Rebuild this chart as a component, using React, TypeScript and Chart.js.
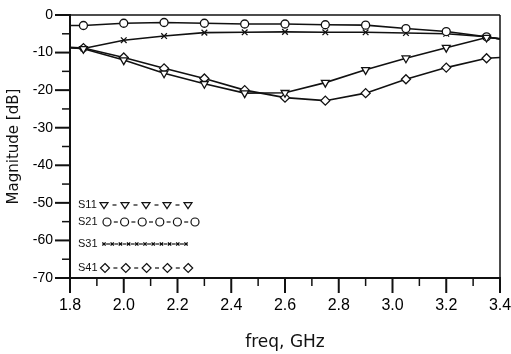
import React, { useEffect, useRef } from 'react';
import { Chart, registerables } from 'chart.js';

Chart.register(...registerables);

// frequency samples (GHz); 1.8 and 3.4 are the line end points (no markers)
const freq = [1.8, 1.85, 2.0, 2.15, 2.3, 2.45, 2.6, 2.75, 2.9, 3.05, 3.2, 3.35, 3.4];
const s11 = [-8.7, -9.0, -12.0, -15.5, -18.3, -20.8, -20.7, -18.0, -14.6, -11.5, -8.7, -6.0, -6.3];
const s21 = [-2.8, -2.8, -2.2, -2.0, -2.2, -2.4, -2.4, -2.6, -2.7, -3.6, -4.4, -5.8, -6.4];
const s31 = [-8.7, -8.9, -6.7, -5.6, -4.7, -4.6, -4.5, -4.6, -4.6, -4.8, -5.0, -5.8, -6.4];
const s41 = [-8.6, -8.8, -11.3, -14.2, -16.9, -20.0, -22.0, -22.8, -20.8, -17.1, -14.0, -11.5, -11.3];

const seriesNames = ['S11', 'S21', 'S31', 'S41'];
const xTicks = [1.8, 2.0, 2.2, 2.4, 2.6, 2.8, 3.0, 3.2, 3.4];
const yTicks = [0, -10, -20, -30, -40, -50, -60, -70];

const SANS = "'Liberation Sans', Arial, sans-serif";
const WIDE = "'DejaVu Sans', Verdana, sans-serif";
const INK = '#111';

const pts = (ys: number[]) => ys.map((y, i) => ({ x: freq[i], y }));
const markerRadius = (r: number) => (ctx: any) => {
  const i = ctx.dataIndex;
  return i === 0 || i === freq.length - 1 ? 0 : r;
};

function line(ctx: CanvasRenderingContext2D, x1: number, y1: number, x2: number, y2: number) {
  ctx.beginPath();
  ctx.moveTo(x1, y1);
  ctx.lineTo(x2, y2);
  ctx.stroke();
}

const framePlugin = {
  id: 'frame',
  afterDraw(chart: any) {
    const { ctx, chartArea, scales } = chart;
    const { left, right, top, bottom } = chartArea;
    const x = scales.x;
    const y = scales.y;
    ctx.save();
    ctx.strokeStyle = INK;
    ctx.lineWidth = 1.5;
    line(ctx, left, top, right, top);
    line(ctx, right, top, right, bottom);
    // x ticks (major every 0.2, minor every 0.1)
    for (let i = 0; i <= 16; i++) {
      const v = 1.8 + i * 0.1;
      const px = x.getPixelForValue(v);
      const major = i % 2 === 0;
      ctx.lineWidth = major ? 2 : 1.5;
      line(ctx, px, bottom, px, bottom + (major ? 15 : 8));
    }
    // y ticks (major every 10, minor every 5)
    for (let i = 0; i <= 14; i++) {
      const v = -i * 5;
      const py = y.getPixelForValue(v);
      const major = i % 2 === 0;
      ctx.lineWidth = major ? 2 : 1.5;
      line(ctx, left, py, left - (major ? 15 : 8), py);
    }
    ctx.restore();
  },
};

function drawMarker(ctx: CanvasRenderingContext2D, kind: string, cx: number, cy: number, r: number) {
  ctx.beginPath();
  if (kind === 'tri') {
    ctx.moveTo(cx - r, cy - r * 0.6);
    ctx.lineTo(cx + r, cy - r * 0.6);
    ctx.lineTo(cx, cy + r * 0.9);
    ctx.closePath();
  } else if (kind === 'circ') {
    ctx.arc(cx, cy, r, 0, Math.PI * 2);
  } else if (kind === 'dia') {
    ctx.moveTo(cx, cy - r);
    ctx.lineTo(cx + r, cy);
    ctx.lineTo(cx, cy + r);
    ctx.lineTo(cx - r, cy);
    ctx.closePath();
  } else {
    ctx.moveTo(cx - r, cy - r);
    ctx.lineTo(cx + r, cy + r);
    ctx.moveTo(cx + r, cy - r);
    ctx.lineTo(cx - r, cy + r);
    ctx.moveTo(cx - r, cy);
    ctx.lineTo(cx + r, cy);
  }
  ctx.fillStyle = '#fff';
  if (kind !== 'star') ctx.fill();
  ctx.stroke();
}

const legendRows = [
  { kind: 'tri', dy: 190, n: 5, start: 34, step: 21, r: 4 },
  { kind: 'circ', dy: 207, n: 6, start: 37, step: 17.6, r: 4 },
  { kind: 'star', dy: 229, n: 11, start: 34, step: 8.2, r: 1.6 },
  { kind: 'dia', dy: 253, n: 5, start: 35, step: 20.8, r: 4.5 },
];

const legendPlugin = {
  id: 'ownLegend',
  afterDraw(chart: any) {
    const { ctx, chartArea } = chart;
    const { left, top } = chartArea;
    ctx.save();
    ctx.strokeStyle = INK;
    ctx.font = `11px ${SANS}`;
    ctx.textBaseline = 'middle';
    ctx.textAlign = 'left';
    legendRows.forEach((row, k) => {
      const cy = top + row.dy;
      ctx.fillStyle = INK;
      ctx.fillText(seriesNames[k], left + 8, cy);
      ctx.lineWidth = 1.2;
      for (let i = 0; i < row.n; i++) {
        const cx = left + row.start + i * row.step;
        if (i < row.n - 1) {
          const nx = cx + row.step;
          const mid = (cx + nx) / 2;
          line(ctx, mid - 2, cy, mid + 2, cy);
        }
        drawMarker(ctx, row.kind, cx, cy, row.r);
      }
    });
    ctx.restore();
  },
};

export default function App() {
  const ref = useRef<HTMLCanvasElement | null>(null);
  useEffect(() => {
    if (!ref.current) return;
    const common = {
      borderColor: INK,
      backgroundColor: '#fff',
      borderWidth: 1.6,
      pointBorderColor: INK,
      pointBackgroundColor: '#fff',
      pointBorderWidth: 1.3,
      fill: false,
      tension: 0,
    };
    const chart = new Chart(ref.current, {
      type: 'line',
      data: {
        datasets: [
          { ...common, label: seriesNames[0], data: pts(s11), pointStyle: 'triangle', rotation: 180, pointRadius: markerRadius(4.5) },
          { ...common, label: seriesNames[1], data: pts(s21), pointStyle: 'circle', pointRadius: markerRadius(4) },
          { ...common, label: seriesNames[2], data: pts(s31), pointStyle: 'crossRot', pointRadius: markerRadius(4) },
          { ...common, label: seriesNames[3], data: pts(s41), pointStyle: 'rectRot', pointRadius: markerRadius(4.5) },
        ] as any,
      },
      options: {
        animation: false,
        responsive: false,
        layout: { padding: { top: 15, right: 11, left: 0, bottom: 0 } },
        plugins: { legend: { display: false }, tooltip: { enabled: false } },
        scales: {
          x: {
            type: 'linear',
            min: 1.8,
            max: 3.4,
            afterBuildTicks: (s: any) => { s.ticks = xTicks.map((v) => ({ value: v })); },
            afterFit: (s: any) => { s.height = 76; s.paddingLeft = 0; s.paddingRight = 0; },
            grid: { display: true, drawOnChartArea: false, drawTicks: false },
            border: { display: true, color: INK, width: 2 },
            ticks: {
              padding: 18,
              color: '#000',
              font: { family: SANS, size: 16 },
              maxRotation: 0,
              autoSkip: false,
              callback: (v: any) => Number(v).toFixed(1),
            },
            title: {
              display: true,
              text: 'freq, GHz',
              color: INK,
              font: { family: WIDE, size: 17 },
              padding: { top: 0, bottom: 1 },
            },
          },
          y: {
            type: 'linear',
            min: -70,
            max: 0,
            afterBuildTicks: (s: any) => { s.ticks = yTicks.map((v) => ({ value: v })); },
            afterFit: (s: any) => { s.width = 70; s.paddingTop = 0; s.paddingBottom = 0; },
            grid: { display: true, drawOnChartArea: false, drawTicks: false },
            border: { display: true, color: INK, width: 2 },
            ticks: {
              padding: 17,
              color: '#000',
              font: { family: SANS, size: 14 },
              autoSkip: false,
              callback: (v: any) => String(v),
            },
            title: {
              display: true,
              text: 'Magnitude [dB]',
              color: INK,
              font: { family: WIDE, size: 15 },
              padding: { top: 5.5, bottom: 0 },
            },
          },
        },
      } as any,
      plugins: [framePlugin, legendPlugin],
    });
    return () => chart.destroy();
  }, []);
  return (
    <div style={{ position: 'absolute', left: 0, top: 0, width: 511, height: 354, background: '#fff' }}>
      <canvas ref={ref} width={511} height={354} />
    </div>
  );
}
